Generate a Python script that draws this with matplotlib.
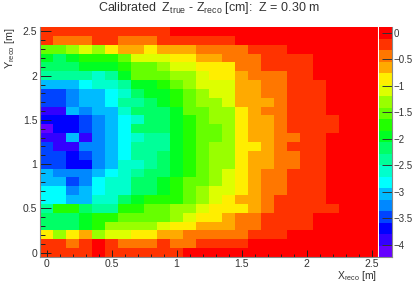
import numpy as np
import matplotlib
matplotlib.use("Agg")
import matplotlib.pyplot as plt
from matplotlib import colors

plt.rcParams['font.family'] = ['Liberation Sans', 'DejaVu Sans']
plt.rcParams['mathtext.fontset'] = 'custom'
plt.rcParams['mathtext.rm'] = 'Liberation Sans'
plt.rcParams['mathtext.default'] = 'rm'

# bin centres in metres, 0.1 m bins
x_bins = [0.0, 0.1, 0.2, 0.3, 0.4, 0.5, 0.6, 0.7, 0.8, 0.9, 1.0, 1.1, 1.2,
          1.3, 1.4, 1.5, 1.6, 1.7, 1.8, 1.9, 2.0, 2.1, 2.2, 2.3, 2.4, 2.5]
y_bins = x_bins

# colour band of each cell, 0 = top of the palette
# first row is Y = 2.5, last row is Y = 0
bands = [
    [1, 1, 1, 1, 1, 1, 1, 1, 1, 1, 0, 0, 0, 0, 0, 0, 0, 0, 0, 0, 0, 0, 0, 0, 0, 0],
    [1, 2, 2, 2, 1, 1, 2, 2, 2, 1, 1, 1, 1, 1, 1, 0, 0, 0, 0, 0, 0, 0, 0, 0, 0, 0],
    [7, 7, 6, 5, 6, 4, 3, 3, 4, 3, 3, 3, 2, 2, 2, 2, 1, 1, 1, 0, 0, 0, 0, 0, 0, 0],
    [9, 10, 9, 8, 8, 8, 7, 5, 5, 5, 4, 4, 3, 3, 2, 2, 2, 1, 1, 1, 1, 0, 0, 0, 0, 0],
    [10, 10, 10, 9, 9, 9, 8, 7, 7, 6, 5, 5, 4, 4, 4, 2, 2, 1, 1, 1, 1, 0, 0, 0, 0, 0],
    [11, 11, 11, 11, 12, 11, 9, 7, 7, 7, 6, 6, 5, 4, 4, 3, 2, 2, 2, 1, 1, 0, 0, 0, 0, 0],
    [14, 14, 14, 13, 12, 12, 11, 9, 9, 8, 7, 6, 5, 5, 5, 3, 3, 2, 2, 1, 1, 1, 0, 0, 0, 0],
    [16, 16, 15, 14, 14, 13, 12, 10, 9, 9, 8, 7, 6, 5, 5, 3, 3, 2, 2, 1, 1, 1, 0, 0, 0, 0],
    [16, 16, 15, 14, 14, 13, 11, 11, 10, 9, 8, 7, 6, 6, 5, 3, 3, 3, 2, 1, 1, 1, 0, 0, 0, 0],
    [18, 18, 14, 15, 14, 14, 12, 10, 10, 10, 9, 7, 7, 6, 6, 4, 3, 2, 2, 1, 1, 1, 0, 0, 0, 0],
    [17, 17, 17, 16, 15, 14, 13, 12, 10, 10, 9, 8, 7, 6, 6, 4, 3, 3, 2, 1, 1, 1, 1, 0, 0, 0],
    [19, 17, 17, 16, 15, 14, 13, 10, 10, 10, 9, 8, 7, 7, 6, 4, 3, 3, 2, 1, 1, 1, 1, 0, 0, 0],
    [18, 18, 14, 18, 15, 14, 13, 12, 11, 11, 9, 8, 7, 7, 6, 4, 3, 3, 2, 2, 1, 1, 0, 0, 0, 0],
    [16, 18, 18, 15, 15, 14, 13, 11, 11, 11, 9, 8, 7, 6, 6, 4, 4, 3, 2, 1, 1, 1, 0, 0, 0, 0],
    [16, 16, 17, 16, 15, 14, 13, 11, 11, 10, 9, 8, 7, 6, 6, 4, 3, 3, 2, 2, 1, 1, 0, 0, 0, 0],
    [16, 16, 17, 17, 15, 14, 12, 12, 11, 10, 9, 8, 7, 6, 6, 4, 3, 3, 2, 2, 1, 1, 0, 0, 0, 0],
    [14, 15, 15, 15, 14, 13, 12, 11, 10, 10, 9, 8, 7, 6, 5, 4, 3, 2, 2, 1, 1, 1, 0, 0, 0, 0],
    [14, 14, 16, 15, 13, 12, 12, 10, 10, 9, 8, 7, 7, 6, 5, 4, 3, 2, 2, 1, 1, 1, 0, 0, 0, 0],
    [13, 13, 15, 14, 13, 12, 12, 10, 10, 9, 8, 7, 6, 5, 5, 4, 3, 2, 2, 1, 1, 1, 0, 0, 0, 0],
    [13, 13, 14, 14, 12, 12, 10, 9, 8, 8, 8, 7, 6, 5, 4, 3, 3, 2, 1, 1, 1, 1, 0, 0, 0, 0],
    [11, 8, 8, 10, 11, 11, 8, 8, 7, 7, 6, 6, 5, 4, 4, 4, 3, 2, 1, 1, 1, 1, 1, 0, 0, 0],
    [10, 10, 10, 9, 8, 8, 7, 7, 7, 7, 6, 5, 4, 4, 3, 2, 2, 1, 1, 1, 1, 0, 0, 0, 0, 0],
    [10, 10, 10, 9, 8, 6, 6, 6, 6, 5, 4, 4, 3, 3, 3, 2, 2, 1, 1, 1, 1, 0, 0, 0, 0, 0],
    [4, 6, 4, 3, 6, 5, 5, 4, 4, 3, 3, 2, 2, 2, 2, 2, 1, 1, 1, 0, 0, 0, 0, 0, 0, 0],
    [1, 1, 2, 1, 0, 1, 2, 2, 2, 1, 2, 2, 1, 1, 1, 1, 0, 0, 0, 0, 0, 0, 0, 0, 0, 0],
    [1, 1, 1, 1, 0, 1, 1, 1, 1, 1, 1, 0, 0, 0, 0, 0, 0, 0, 0, 0, 0, 0, 0, 0, 0, 0],
]

palette = ['#ff0000', '#ff3300', '#ff7700', '#ffaa00', '#ffee00', '#ddff00', '#99ff00',
           '#66ff00', '#22ff00', '#00ff22', '#00ff66', '#00ff99', '#00ffcc', '#00ffff',
           '#00bbff', '#0088ff', '#0044ff', '#0000ff', '#3300ff', '#6600ff']

z_top = 0.11
z_step = 0.217

x_ticks = [0, 0.5, 1, 1.5, 2, 2.5]
x_labels = ['0', '0.5', '1', '1.5', '2', '2.5']
z_ticks = [0, -0.5, -1, -1.5, -2, -2.5, -3, -3.5, -4]
z_labels = ['0', '\u22120.5', '\u22121', '\u22121.5', '\u22122', '\u22122.5', '\u22123', '\u22123.5', '\u22124']

W, H = 415, 284
gray = '#888888'
txt = '#333333'

fig = plt.figure(figsize=(W / 100, H / 100), dpi=100)
ax = fig.add_axes([40 / W, 1 - 257 / H, 338 / W, 230 / H])

z = z_top - (np.array(bands)[::-1] + 0.5) * z_step
edges_z = z_top - z_step * np.arange(len(palette) + 1)
cmap = colors.ListedColormap(palette[::-1])
norm = colors.BoundaryNorm(edges_z[::-1], cmap.N)

x_edges = np.array(x_bins + [x_bins[-1] + 0.1]) - 0.05
y_edges = np.array(y_bins + [y_bins[-1] + 0.1]) - 0.05
ax.pcolormesh(x_edges, y_edges, z, cmap=cmap, norm=norm)
ax.set_xlim(x_edges[0], x_edges[-1])
ax.set_ylim(y_edges[0], y_edges[-1])

# ROOT style inside ticks, the x ones are shorter
ax.set_xticks(x_ticks)
ax.set_xticklabels(x_labels)
ax.set_yticks(x_ticks)
ax.set_yticklabels(x_labels)
ax.set_xticks(np.arange(0, 2.55, 0.1), minor=True)
ax.set_yticks(np.arange(0, 2.55, 0.1), minor=True)
ax.tick_params(which='both', direction='in', width=0.7, color='#222222')
ax.tick_params(which='major', labelsize=7.5, labelcolor=txt)
ax.tick_params(axis='x', which='major', length=5, pad=1.5)
ax.tick_params(axis='x', which='minor', length=2.5)
ax.tick_params(axis='y', which='major', length=8, pad=2)
ax.tick_params(axis='y', which='minor', length=3.6)
for s in ax.spines.values():
    s.set_color(gray)
    s.set_linewidth(0.8)
ax.spines['top'].set_visible(False)
ax.spines['right'].set_color('white')

fig.text(377 / W, 1 - 279 / H, r'X$_{reco}$ [m]', ha='right', va='baseline', fontsize=7.5, color=txt)
fig.text(10 / W, 1 - 27 / H, r'Y$_{reco}$ [m]', ha='center', va='top', rotation=90, fontsize=7.8, color=txt)
fig.text(209 / W, 1 - 11 / H, r'Calibrated  Z$_{true}$ - Z$_{reco}$ [cm]:  Z = 0.30 m',
         ha='center', va='baseline', fontsize=9, color=txt)

# palette bar
cax = fig.add_axes([379 / W, 1 - 257 / H, 13 / W, 230 / H])
cax.pcolormesh([0, 1], edges_z[::-1], (edges_z[1:][::-1] + z_step / 2).reshape(-1, 1), cmap=cmap, norm=norm)
cax.set_xticks([])
cax.yaxis.tick_right()
cax.set_yticks(z_ticks)
cax.set_yticklabels(z_labels)
cax.set_ylim(edges_z[-1], edges_z[0])
cax.tick_params(axis='y', direction='in', length=7, width=0.7, color='#333333', labelsize=7,
                labelcolor=txt, pad=1)
for s in cax.spines.values():
    s.set_color(gray)
    s.set_linewidth(0.8)
cax.spines['left'].set_visible(False)
cax.spines['top'].set_visible(False)

fig.savefig('out.png', dpi=100)
